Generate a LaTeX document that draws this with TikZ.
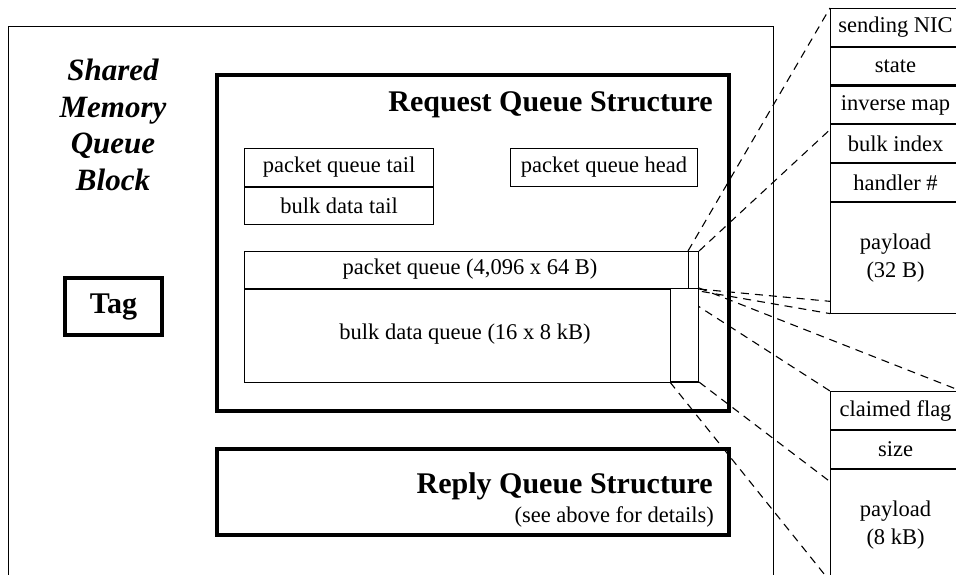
\documentclass[tikz,border=0pt]{standalone}
\usepackage{fontspec}
\setmainfont{Liberation Serif}
\usetikzlibrary{backgrounds}
\begin{document}
\begin{tikzpicture}[x=1pt,y=-1pt,
  txt/.style={font=\fontsize{22.5}{28}\selectfont},
  cell/.style={draw, line width=1.1pt, fill=white, inner sep=0pt,
               anchor=north west, txt, align=center},
  frame/.style={draw, line width=4pt, inner sep=0pt, anchor=north west},
  hdr/.style={font=\fontsize{30}{36}\selectfont\bfseries, inner sep=0pt},
  guide/.style={line width=1.1pt, dash pattern=on 8pt off 6pt}]
\useasboundingbox (0,0) rectangle (956,575);

% outer shared-memory block
\node[draw, line width=1pt, inner sep=0pt, anchor=north west,
      minimum width=765, minimum height=580] (smqb) at (8,26) {};
\node[font=\fontsize{31}{36.7}\selectfont\bfseries\itshape, align=center,
      inner sep=0pt] (smqlabel) at (113,125) {Shared\\Memory\\Queue\\Block};
\node[frame, hdr, minimum width=97, minimum height=57] (tag) at (63,276) {Tag};

% request queue structure
\node[frame, minimum width=512, minimum height=336] (req) at (215,73) {};
\node[hdr, anchor=base east] (reqtitle) at (713,112) {Request Queue Structure};
\node[cell, minimum width=189, minimum height=38] (pqtail) at (244,148) {packet queue tail};
\node[cell, minimum width=189, minimum height=37] (bdtail) at (pqtail.south west) {bulk data tail};
\node[cell, minimum width=187, minimum height=38] (pqhead) at (510,148) {packet queue head};
\node[cell, minimum width=454, minimum height=37] (pq) at (244,251) {};
\node[txt, inner sep=0pt] (pqtext) at (470,269) {packet queue (4,096 x 64 B)};
\node[cell, minimum width=454, minimum height=93] (bdq) at (pq.south west) {};
\node[txt, inner sep=0pt] (bdqtext) at (465,334) {bulk data queue (16 x 8 kB)};
\node[cell, minimum width=10, minimum height=37] (pqslot) at (688,251) {};
\node[cell, minimum width=28, minimum height=93] (bdslot) at (670,288) {};

% reply queue structure
\node[frame, minimum width=512, minimum height=86] (rep) at (215,447) {};
\node[hdr, anchor=base east] (reptitle) at (713,493) {Reply Queue Structure};
\node[txt, inner sep=0pt, anchor=base east] (repnote) at (714,522) {(see above for details)};

% packet record layout
\node[cell, minimum width=130, minimum height=37.7] (nic) at (830,8) {sending NIC};
\node[cell, minimum width=130, minimum height=37.7] (state) at (nic.south west) {state};
\node[cell, minimum width=130, minimum height=37.7] (invmap) at (state.south west) {inverse map};
\node[cell, minimum width=130, minimum height=37.7] (bulkidx) at (invmap.south west) {bulk index};
\node[cell, minimum width=130, minimum height=37.7] (handler) at (bulkidx.south west) {handler \#};
\node[cell, minimum width=130, minimum height=110.5] (pay32) at (handler.south west) {payload\\(32 B)};

% bulk buffer layout
\node[cell, minimum width=130, minimum height=38] (claimed) at (830,391) {claimed flag};
\node[cell, minimum width=130, minimum height=38] (size) at (claimed.south west) {size};
\node[cell, minimum width=130, minimum height=111] (pay8) at (size.south west) {payload\\(8 kB)};

% projection lines from the slots to their expanded layouts
\begin{scope}[on background layer]
  \draw[guide] (pqslot.north west) -- (nic.north west);
  \draw[guide] (pqslot.north east) -- (nic.north east);
  \draw[guide] (pqslot.south west) -- (pay32.south west);
  \draw[guide] (pqslot.south east) -- (pay32.south east);
  \draw[guide] (bdslot.north west) -- (claimed.north west);
  \draw[guide] (bdslot.north east) -- (claimed.north east);
  \draw[guide] (bdslot.south west) -- (pay8.south west);
  \draw[guide] (bdslot.south east) -- (pay8.south east);
\end{scope}
\end{tikzpicture}
\end{document}
